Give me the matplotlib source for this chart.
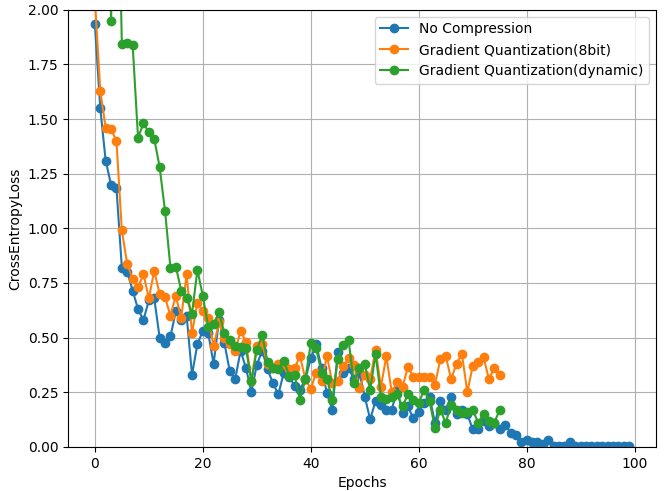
import numpy as np
import matplotlib

matplotlib.use("Agg")
import matplotlib.pyplot as plt

# loss per epoch
no_compression = [
    1.935, 1.55, 1.31, 1.20, 1.185, 0.82, 0.80, 0.715, 0.63, 0.58,
    0.67, 0.68, 0.50, 0.475, 0.505, 0.62, 0.58, 0.60, 0.33, 0.47,
    0.53, 0.52, 0.38, 0.58, 0.475, 0.345, 0.31, 0.44, 0.36, 0.25,
    0.375, 0.44, 0.355, 0.29, 0.24, 0.34, 0.32, 0.28, 0.26, 0.31,
    0.405, 0.47, 0.36, 0.245, 0.17, 0.435, 0.34, 0.36, 0.31, 0.34,
    0.23, 0.125, 0.21, 0.19, 0.17, 0.17, 0.26, 0.155, 0.185, 0.13,
    0.16, 0.20, 0.23, 0.11, 0.21, 0.17, 0.23, 0.15, 0.17, 0.15,
    0.08, 0.08, 0.12, 0.095, 0.11, 0.08, 0.10, 0.065, 0.055, 0.02,
    0.03, 0.02, 0.02, 0.015, 0.03, 0.005, 0.005, 0.005, 0.02, 0.004,
    0.004, 0.003, 0.003, 0.003, 0.003, 0.003, 0.003, 0.003, 0.003, 0.003,
]
quant_8bit = [
    2.05, 1.63, 1.46, 1.455, 1.40, 0.99, 0.835, 0.77, 0.73, 0.79,
    0.68, 0.805, 0.70, 0.685, 0.60, 0.69, 0.59, 0.79, 0.52, 0.66,
    0.62, 0.59, 0.46, 0.57, 0.50, 0.47, 0.44, 0.53, 0.48, 0.30,
    0.46, 0.47, 0.38, 0.36, 0.38, 0.38, 0.355, 0.36, 0.415, 0.31,
    0.265, 0.34, 0.30, 0.415, 0.29, 0.30, 0.37, 0.405, 0.375, 0.27,
    0.33, 0.31, 0.445, 0.275, 0.415, 0.25, 0.295, 0.275, 0.365, 0.32,
    0.32, 0.32, 0.32, 0.285, 0.40, 0.415, 0.31, 0.38, 0.425, 0.25,
    0.37, 0.39, 0.41, 0.31, 0.36, 0.33,
]
quant_dynamic = [
    6.0, 5.0, 4.0, 1.95, 3.0, 1.845, 1.85, 1.84, 1.415, 1.48,
    1.44, 1.41, 1.28, 1.08, 0.82, 0.825, 0.715, 0.68, 0.61, 0.81,
    0.69, 0.55, 0.56, 0.615, 0.52, 0.49, 0.46, 0.455, 0.45, 0.30,
    0.445, 0.51, 0.39, 0.36, 0.355, 0.395, 0.325, 0.33, 0.215, 0.31,
    0.475, 0.45, 0.34, 0.31, 0.215, 0.40, 0.465, 0.49, 0.29, 0.36,
    0.38, 0.26, 0.425, 0.23, 0.22, 0.23, 0.24, 0.185, 0.24, 0.215,
    0.20, 0.26, 0.21, 0.085, 0.17, 0.11, 0.19, 0.17, 0.155, 0.16,
    0.17, 0.11, 0.15, 0.12, 0.11, 0.17,
]
labels = ["No Compression", "Gradient Quantization(8bit)",
          "Gradient Quantization(dynamic)"]

fig = plt.figure(figsize=(6.68, 4.91), dpi=100)
ax = fig.add_axes([0.102, 0.09, 0.880, 0.89])

for series, label in zip([no_compression, quant_8bit, quant_dynamic], labels):
    ax.plot(np.arange(len(series)), series, marker="o", label=label)

ax.set_ylim(0, 2)
ax.set_xlabel("Epochs")
ax.set_ylabel("CrossEntropyLoss")
ax.grid(True)
ax.legend(loc="upper right")

fig.savefig("out.png", dpi=100)
